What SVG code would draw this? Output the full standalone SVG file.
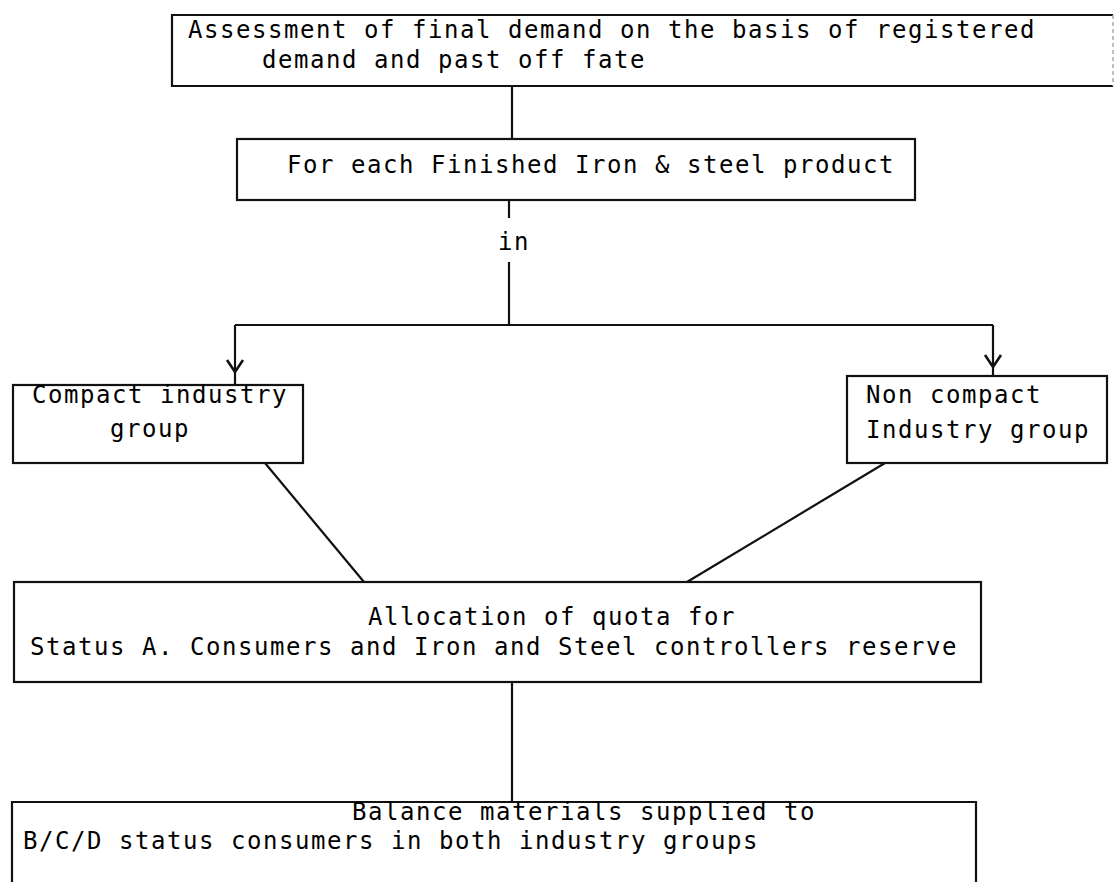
<svg xmlns="http://www.w3.org/2000/svg" width="1117" height="886" viewBox="0 0 1117 886">
  <style>
    .box { fill: none; stroke: #111; stroke-width: 2.2; }
    .faint { fill: none; stroke: #aaa; stroke-width: 1.5; stroke-dasharray: 4 3; }
    .t { font-family: "DejaVu Sans Mono", "Liberation Mono", monospace; font-size: 24px; letter-spacing: 1.55px; fill: #000; }
    .c { fill: none; stroke: #111; stroke-width: 2.2; }
    .arr { marker-mid: url(#vhead); }
  </style>
  <defs>
    <marker id="vhead" viewBox="-16 -10 20 20" markerWidth="20" markerHeight="20" refX="0" refY="0" orient="auto" markerUnits="userSpaceOnUse" overflow="visible">
      <path d="M-12,-8 L0,0 L-12,8" fill="none" stroke="#111" stroke-width="2.6"/>
    </marker>
  </defs>
  <rect x="0" y="0" width="1117" height="886" fill="#fff"/>

  <g id="connectors">
    <path class="c" d="M512,86 V139"/>
    <path class="c" d="M509,200 V218"/>
    <path class="c" d="M509,262 V325"/>
    <path class="c" d="M235,325 H993"/>
    <path class="c arr" d="M235,325 L235,372 L235,385"/>
    <path class="c arr" d="M993,325 L993,367 L993,376"/>
    <path class="c" d="M265,463 L364,582"/>
    <path class="c" d="M885,463 L687,582"/>
    <path class="c" d="M512,682 V802"/>
    <text class="t" x="498" y="250">in</text>
  </g>

  <g id="assessment">
    <path class="box" d="M1113,15 H172 V86 H1113"/>
    <path class="faint" d="M1113,15 V86"/>
    <text class="t" x="188" y="38">Assessment of final demand on the basis of registered</text>
    <text class="t" x="262" y="68">demand and past off fate</text>
  </g>

  <g id="each-product">
    <rect class="box" x="237" y="139" width="678" height="61"/>
    <text class="t" x="287" y="173">For each Finished Iron &amp; steel product</text>
  </g>

  <g id="compact">
    <rect class="box" x="13" y="385" width="290" height="78"/>
    <text class="t" x="32" y="403">Compact industry</text>
    <text class="t" x="110" y="437">group</text>
  </g>

  <g id="non-compact">
    <rect class="box" x="847" y="376" width="260" height="87"/>
    <text class="t" x="866" y="403">Non compact</text>
    <text class="t" x="866" y="438">Industry group</text>
  </g>

  <g id="allocation">
    <rect class="box" x="14" y="582" width="967" height="100"/>
    <text class="t" x="368" y="625">Allocation of quota for</text>
    <text class="t" x="30" y="655">Status A. Consumers and Iron and Steel controllers reserve</text>
  </g>

  <g id="balance">
    <path class="box" d="M12,882 V802 H976 V882"/>
    <text class="t" x="352" y="820">Balance materials supplied to</text>
    <text class="t" x="23" y="849">B/C/D status consumers in both industry groups</text>
  </g>
</svg>
